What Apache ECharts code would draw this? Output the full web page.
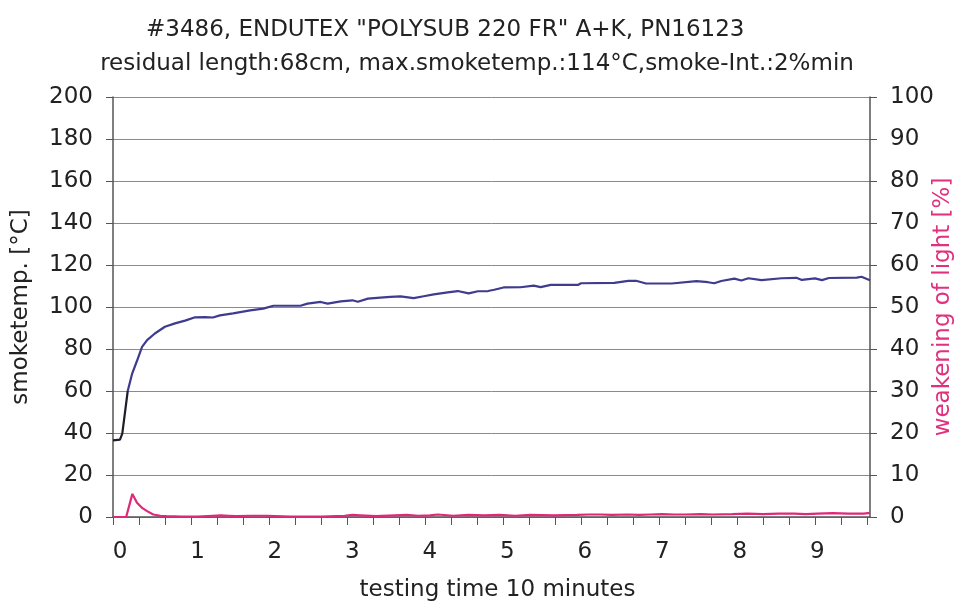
<!DOCTYPE html>
<html>
<head>
<meta charset="utf-8">
<script src="https://cdn.jsdelivr.net/npm/echarts@6/dist/echarts.min.js"></script>
<style>html,body{margin:0;padding:0;background:#fff}#c{width:954px;height:605px}</style>
</head>
<body>
<div id="c"></div>
<script>
// ---- data (time in minutes) ----
const titleLine1 = '#3486, ENDUTEX "POLYSUB 220 FR" A+K, PN16123';
const titleLine2 = 'residual length:68cm, max.smoketemp.:114°C,smoke-Int.:2%min';
const xTickLabels = [0, 1, 2, 3, 4, 5, 6, 7, 8, 9];
const leftTicks = [0, 20, 40, 60, 80, 100, 120, 140, 160, 180, 200];
const rightTicks = [0, 10, 20, 30, 40, 50, 60, 70, 80, 90, 100];

// start-up segment of the temperature curve (drawn dark in the original)
const tempStartTime = [-0.09, 0.0, 0.03, 0.10];
const tempStartValue = [36.5, 36.8, 39.7, 60];
const tempTime = [0.10, 0.155, 0.22, 0.285, 0.35, 0.45, 0.58, 0.71, 0.84, 0.97, 1.10, 1.20, 1.29, 1.46, 1.68, 1.85, 1.98, 2.33, 2.42, 2.59, 2.68, 2.85, 3.00, 3.07, 3.20, 3.36, 3.49, 3.62, 3.79, 3.92, 4.05, 4.23, 4.36, 4.50, 4.62, 4.75, 4.83, 4.95, 5.17, 5.34, 5.43, 5.56, 5.91, 5.95, 6.38, 6.56, 6.66, 6.79, 7.12, 7.44, 7.59, 7.67, 7.76, 7.93, 8.02, 8.11, 8.28, 8.54, 8.73, 8.80, 8.97, 9.06, 9.15, 9.51, 9.57, 9.68];
const tempValue = [60, 68, 74.4, 81, 84.2, 87.4, 90.6, 92.2, 93.5, 95.1, 95.2, 95.0, 96, 97, 98.4, 99.2, 100.6, 100.6, 101.6, 102.4, 101.6, 102.7, 103.2, 102.5, 104, 104.5, 104.8, 105.1, 104.2, 105.1, 106, 107, 107.6, 106.5, 107.5, 107.6, 108.2, 109.3, 109.4, 110.2, 109.5, 110.5, 110.5, 111.3, 111.5, 112.4, 112.5, 111.2, 111.2, 112.3, 111.8, 111.3, 112.4, 113.5, 112.6, 113.7, 112.8, 113.7, 113.9, 112.9, 113.6, 112.8, 113.8, 114.0, 114.4, 112.7];

const lightTime = [-0.09, 0.0, 0.08, 0.16, 0.22, 0.29, 0.35, 0.43, 0.52, 0.6, 0.8, 1.0, 1.2, 1.3, 1.4, 1.5, 1.7, 1.9, 2.2, 2.6, 2.9, 3.0, 3.1, 3.3, 3.55, 3.7, 3.85, 4.0, 4.1, 4.3, 4.5, 4.7, 4.9, 5.1, 5.3, 5.6, 5.9, 6.05, 6.2, 6.35, 6.55, 6.7, 6.85, 7.0, 7.15, 7.3, 7.5, 7.65, 7.9, 8.1, 8.3, 8.5, 8.7, 8.85, 9.0, 9.2, 9.4, 9.6, 9.68];
const lightValue = [0, 0, 0, 5.5, 3.4, 2.1, 1.4, 0.6, 0.3, 0.2, 0.1, 0.1, 0.3, 0.4, 0.3, 0.2, 0.3, 0.3, 0.1, 0.1, 0.3, 0.5, 0.4, 0.2, 0.4, 0.5, 0.3, 0.4, 0.6, 0.3, 0.5, 0.4, 0.5, 0.3, 0.5, 0.4, 0.5, 0.6, 0.6, 0.5, 0.6, 0.5, 0.6, 0.7, 0.6, 0.6, 0.7, 0.6, 0.7, 0.8, 0.7, 0.8, 0.8, 0.7, 0.8, 0.9, 0.8, 0.8, 1.0];

// ---- build ----
const zip = (a, b) => a.map((t, i) => [t, b[i]]);
const xMin = -0.09, xMax = 9.68;
const xTicks = [];
for (let k = 0; k < 30; k++) xTicks.push(+(xMin + k * 0.3355).toFixed(4));

const FONT = '"DejaVu Sans", sans-serif';
const FS = 23;
const titleStyle = {fontFamily: FONT, fontSize: FS, fontWeight: 'normal', color: '#222'};
const chart = echarts.init(document.getElementById('c'), null, {renderer: 'canvas'});
chart.setOption({
  animation: false,
  backgroundColor: '#fff',
  textStyle: {fontFamily: FONT},
  title: [
    {text: titleLine1, left: 146, top: 19, padding: 0, textStyle: titleStyle},
    {text: titleLine2, left: 'center', top: 53, padding: 0, textStyle: titleStyle}
  ],
  grid: {left: 113, right: 84, top: 97, bottom: 88, outerBoundsMode: 'none', containLabel: false},
  xAxis: {
    type: 'value', min: xMin, max: xMax,
    name: 'testing time 10 minutes', nameLocation: 'middle', nameGap: 62, nameMoveOverlap: false,
    nameTextStyle: {fontFamily: FONT, fontSize: FS, color: '#222', padding: [0, 0, 0, 12]},
    axisLine: {onZero: false, lineStyle: {color: '#555', width: 1.5}},
    axisTick: {show: true, customValues: xTicks, length: 8, lineStyle: {color: '#555'}},
    axisLabel: {customValues: xTickLabels, fontSize: FS, color: '#222', margin: 24, fontFamily: FONT},
    splitLine: {show: false}
  },
  yAxis: [{
    type: 'value', min: leftTicks[0], max: leftTicks[leftTicks.length - 1], interval: 20,
    position: 'left',
    name: 'smoketemp. [°C]', nameLocation: 'middle', nameGap: 80, nameRotate: 90, nameMoveOverlap: false,
    nameTextStyle: {fontFamily: FONT, fontSize: FS, color: '#222'},
    axisLine: {show: true, onZero: false, lineStyle: {color: '#555', width: 1.5}},
    axisTick: {show: true, length: 7, lineStyle: {color: '#555'}},
    axisLabel: {fontSize: FS, color: '#222', margin: 20, fontFamily: FONT},
    splitLine: {show: true, lineStyle: {color: '#8a8a8a', width: 1}}
  }, {
    type: 'value', min: rightTicks[0], max: rightTicks[rightTicks.length - 1], interval: 10,
    position: 'right',
    name: 'weakening of light [%]', nameLocation: 'middle', nameGap: 62, nameRotate: 90, nameMoveOverlap: false,
    nameTextStyle: {fontFamily: FONT, fontSize: FS, color: '#e0307f'},
    axisLine: {show: true, onZero: false, lineStyle: {color: '#555', width: 1.5}},
    axisTick: {show: true, length: 7, lineStyle: {color: '#555'}},
    axisLabel: {fontSize: FS, color: '#222', margin: 20, fontFamily: FONT},
    splitLine: {show: false}
  }],
  series: [{
    name: 'smoketemp start', type: 'line', yAxisIndex: 0, data: zip(tempStartTime, tempStartValue),
    showSymbol: false, lineStyle: {width: 2.2, color: '#1e1e2a'}, itemStyle: {color: '#1e1e2a'}, z: 3
  }, {
    name: 'smoketemp', type: 'line', yAxisIndex: 0, data: zip(tempTime, tempValue),
    showSymbol: false, lineStyle: {width: 2.2, color: '#3f3b8e'}, itemStyle: {color: '#3f3b8e'}, z: 3
  }, {
    name: 'weakening of light', type: 'line', yAxisIndex: 1, data: zip(lightTime, lightValue),
    showSymbol: false, lineStyle: {width: 2.2, color: '#e0287a'}, itemStyle: {color: '#e0287a'}, z: 4
  }]
});
</script>
</body>
</html>
